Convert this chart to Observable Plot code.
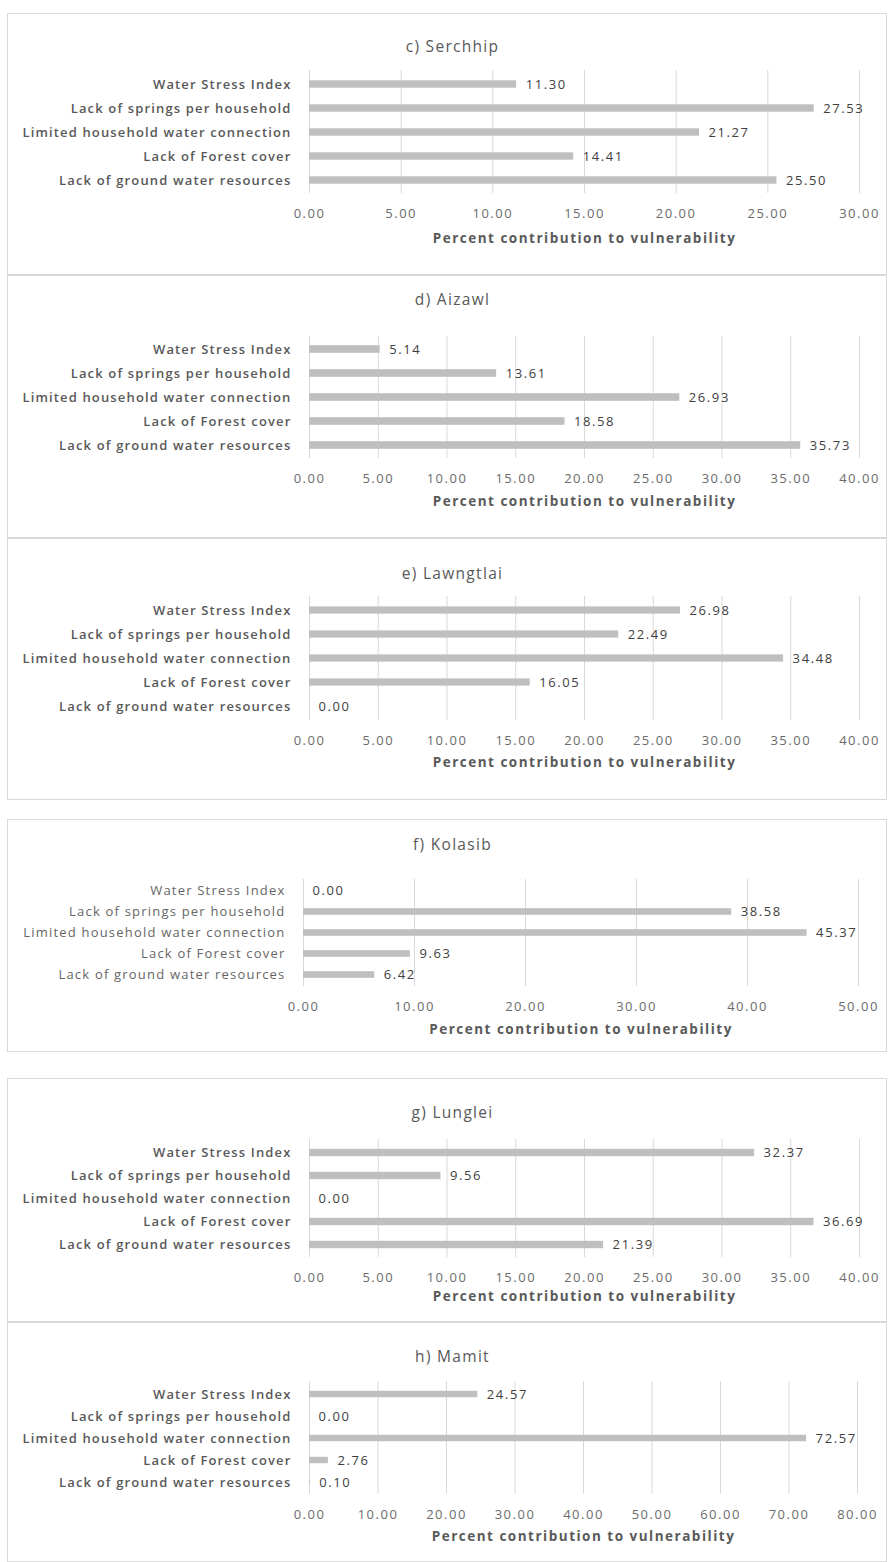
<!DOCTYPE html>
<html><head><meta charset="utf-8">
<script src="https://cdn.jsdelivr.net/npm/d3@7"></script>
<script src="https://cdn.jsdelivr.net/npm/@observablehq/plot@0.6"></script>
<style>
html,body{margin:0;padding:0;background:#fff;}
body{position:relative;width:888px;height:1562px;overflow:hidden;font-family:"Open Sans",sans-serif;}
.box{position:absolute;border:1.5px solid #d9d9d9;box-sizing:border-box;}
.chart{position:absolute;}
.chart svg{font-family:"Open Sans",sans-serif;overflow:visible;}
.chart g[aria-label="y-axis tick label"] text{font-size:13px;font-weight:600;fill:#595959;letter-spacing:1.15px;}
.chart.regular g[aria-label="y-axis tick label"] text{font-weight:400;fill:#666;letter-spacing:1.2px;}
.chart g[aria-label="x-axis tick label"] text{font-size:13px;fill:#6b6b6b;letter-spacing:1.5px;}
.chart g[aria-description="value-label"] text{letter-spacing:1.6px;}
.chart g[aria-description="axis-title"] text{letter-spacing:1.5px;}
.chart g[aria-description="panel-title"] text{letter-spacing:1.3px;}
</style></head><body>
<script>
// ---- data ----
const categories = [
  "Water Stress Index",
  "Lack of springs per household",
  "Limited household water connection",
  "Lack of Forest cover",
  "Lack of ground water resources"
];
const panelTitles = ["c) Serchhip", "d) Aizawl", "e) Lawngtlai", "f) Kolasib", "g) Lunglei", "h) Mamit"];
const serchhip  = [11.30, 27.53, 21.27, 14.41, 25.50];
const aizawl    = [5.14, 13.61, 26.93, 18.58, 35.73];
const lawngtlai = [26.98, 22.49, 34.48, 16.05, 0.00];
const kolasib   = [0.00, 38.58, 45.37, 9.63, 6.42];
const lunglei   = [32.37, 9.56, 0.00, 36.69, 21.39];
const mamit     = [24.57, 0.00, 72.57, 2.76, 0.10];
const seriesValues = [serchhip, aizawl, lawngtlai, kolasib, lunglei, mamit];
const axisMax  = [30, 40, 40, 50, 40, 80];
const tickStep = [5, 5, 5, 10, 5, 10];
const axisTitle = "Percent contribution to vulnerability";

// ---- layout (page pixel geometry) ----
const layout = [
  {top: 13,   bottom: 275,  x0: 309, x1: 859, fTop: 70,   fBot: 193,  titleY: 40,   tickY: 213,  axisY: 242,  bar: 8, cls: ""},
  {top: 275,  bottom: 538,  x0: 309, x1: 859, fTop: 336,  fBot: 458,  titleY: 293,  tickY: 479,  axisY: 505,  bar: 8, cls: ""},
  {top: 538,  bottom: 800,  x0: 309, x1: 859, fTop: 596,  fBot: 720,  titleY: 567,  tickY: 740,  axisY: 766,  bar: 8, cls: ""},
  {top: 819,  bottom: 1052, x0: 303, x1: 858, fTop: 879,  fBot: 986,  titleY: 838,  tickY: 1007, axisY: 1033, bar: 7, cls: "regular"},
  {top: 1078, bottom: 1322, x0: 309, x1: 859, fTop: 1139, fBot: 1257, titleY: 1106, tickY: 1276, axisY: 1300, bar: 8, cls: ""},
  {top: 1322, bottom: 1562, x0: 309, x1: 857, fTop: 1381, fBot: 1494, titleY: 1350, tickY: 1513, axisY: 1540, bar: 7, cls: ""}
];
const boxLeft = 7, boxRight = 887, titleCenter = 452;

layout.forEach((L, i) => {
  const box = document.createElement("div");
  box.className = "box";
  Object.assign(box.style, {left: boxLeft + "px", top: L.top + "px", width: (boxRight - boxLeft) + "px", height: (L.bottom - L.top) + "px"});
  document.body.appendChild(box);

  const data = categories.map((c, j) => ({cat: c, value: seriesValues[i][j]}));
  const ticks = d3.range(0, axisMax[i] + tickStep[i] / 2, tickStep[i]);
  const step = (L.fBot - L.fTop) / categories.length;
  const inset = (step - L.bar) / 2;

  const svg = Plot.plot({
    width: boxRight - boxLeft,
    height: L.bottom - L.top,
    marginLeft: L.x0 - boxLeft,
    marginRight: boxRight - L.x1,
    marginTop: L.fTop - L.top,
    marginBottom: L.bottom - L.fBot,
    style: {background: "transparent"},
    x: {domain: [0, axisMax[i]]},
    y: {domain: categories, padding: 0},
    marks: [
      Plot.gridX(ticks, {stroke: "#d9d9d9", strokeOpacity: 1, strokeWidth: 1}),
      Plot.barX(data, {x: "value", y: "cat", fill: "#bfbfbf", insetTop: inset, insetBottom: inset}),
      Plot.text(data, {x: "value", y: "cat", text: d => d.value.toFixed(2), dx: 9, textAnchor: "start",
        fill: "#404040", fontSize: 13, ariaDescription: "value-label"}),
      Plot.axisX(ticks, {tickSize: 0, tickPadding: 15, tickFormat: d => d.toFixed(2), label: null}),
      Plot.axisY({tickSize: 0, tickPadding: 18, label: null}),
      Plot.text([panelTitles[i]], {frameAnchor: "top-left", dx: titleCenter - L.x0, dy: L.titleY - L.fTop,
        textAnchor: "middle", fontSize: 15.5, fill: "#595959", ariaDescription: "panel-title"}),
      Plot.text([axisTitle], {frameAnchor: "bottom", dy: L.axisY - L.fBot, fontSize: 13.5, fontWeight: "bold",
        fill: "#595959", ariaDescription: "axis-title"})
    ]
  });
  const wrap = document.createElement("div");
  wrap.className = "chart " + L.cls;
  Object.assign(wrap.style, {left: boxLeft + "px", top: L.top + "px"});
  wrap.appendChild(svg);
  document.body.appendChild(wrap);
});
</script>
</body></html>
